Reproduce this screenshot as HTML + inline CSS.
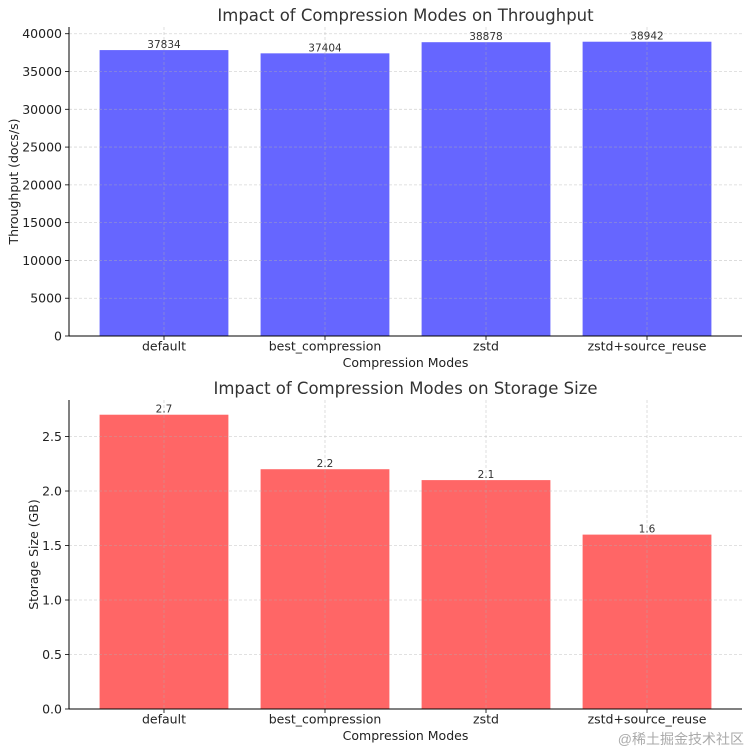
<!DOCTYPE html>
<html><head><meta charset="utf-8"><style>
body{margin:0;background:#fff}
svg{display:block;font-family:"DejaVu Sans","Liberation Sans",sans-serif}
</style></head><body>
<svg id="c" width="750" height="750"></svg>
<script>
const categories=["default","best_compression","zstd","zstd+source_reuse"];
const throughput=[37834,37404,38878,38942];
const storage=[2.7,2.2,2.1,1.6];
const tpTicks=[0,5000,10000,15000,20000,25000,30000,35000,40000];
const stTicks=[0,0.5,1.0,1.5,2.0,2.5];
const stLabels=["0.0","0.5","1.0","1.5","2.0","2.5"];
const stValLabels=["2.7","2.2","2.1","1.6"];
const NS="http://www.w3.org/2000/svg";
const svg=document.getElementById('c');
function el(t,a,txt){const e=document.createElementNS(NS,t);for(const k in a)e.setAttribute(k,a[k]);if(txt!==undefined)e.textContent=txt;svg.appendChild(e);return e;}
function panel(o){
 const L=69,R=742,T=o.top,B=o.bottom;
 const n=categories.length;
 const xmin=-0.59,xmax=n-1+0.59;
 const x=v=>L+(v-xmin)/(xmax-xmin)*(R-L);
 const ymax=Math.max(...o.values)*1.05;
 const y=v=>B-v/ymax*(B-T);
 categories.forEach((c,i)=>{
  const v=o.values[i];const w=(x(0.4)-x(-0.4));
  const b=el('rect',{x:x(i)-w/2,y:y(v),width:w,height:B-y(v),fill:o.color});
  
 });
 o.ticks.forEach((t,i)=>{
  const g=el('line',{x1:L,x2:R,y1:y(t),y2:y(t),stroke:'#b0b0b0','stroke-opacity':0.5,'stroke-dasharray':'3,2','stroke-width':0.8});
  
  const tk=el('line',{x1:L-4,x2:L,y1:y(t),y2:y(t),stroke:'#000','stroke-width':0.8});
  
  const lb=el('text',{x:L-7,y:y(t)+4.5,'text-anchor':'end','font-size':12.5,fill:'#222'},o.tickLabels[i]);
  
 });
 categories.forEach((c,i)=>{
  const v=o.values[i];
  const g=el('line',{x1:x(i),x2:x(i),y1:T,y2:B,stroke:'#b0b0b0','stroke-opacity':0.5,'stroke-dasharray':'3,2','stroke-width':0.8});
  
  const vl=el('text',{x:x(i),y:y(v)-2,'text-anchor':'middle','font-size':10.5,fill:'#333'},o.valLabels[i]);
  
  const tk=el('line',{x1:x(i),x2:x(i),y1:B,y2:B+4,stroke:'#000','stroke-width':0.8});
  
  const xl=el('text',{x:x(i),y:B+14.5,'text-anchor':'middle','font-size':12.5,fill:'#222'},c);
  
 });
 const s1=el('line',{x1:L,x2:L,y1:T,y2:B,stroke:'#000','stroke-width':1});
 
 const s2=el('line',{x1:L,x2:R,y1:B,y2:B,stroke:'#000','stroke-width':1});
 
 const tt=el('text',{x:(L+R)/2,y:T-6,'text-anchor':'middle','font-size':16.5,fill:'#333'},o.title);
 
 const xt=el('text',{x:(L+R)/2,y:B+31,'text-anchor':'middle','font-size':12.5,fill:'#222'},'Compression Modes');
 
 const yt=el('text',{x:0,y:0,'text-anchor':'middle','font-size':12.5,fill:'#222',transform:`translate(${o.ytx},${(T+B)/2}) rotate(-90)`},o.ytitle);
 
}
panel({top:27,bottom:336,values:throughput,ticks:tpTicks,tickLabels:tpTicks.map(String),valLabels:throughput.map(String),color:'#6666ff',title:'Impact of Compression Modes on Throughput',ytitle:'Throughput (docs/s)',ytx:18});
panel({top:400,bottom:709,values:storage,ticks:stTicks,tickLabels:stLabels,valLabels:stValLabels,color:'#ff6666',title:'Impact of Compression Modes on Storage Size',ytitle:'Storage Size (GB)',ytx:38});
const wm=el('text',{x:744,y:744,'text-anchor':'end','font-size':14,fill:'#aaa','font-family':'"Liberation Sans","Noto Sans CJK SC",sans-serif'},'@稀土掘金技术社区');

</script>
</body></html>
